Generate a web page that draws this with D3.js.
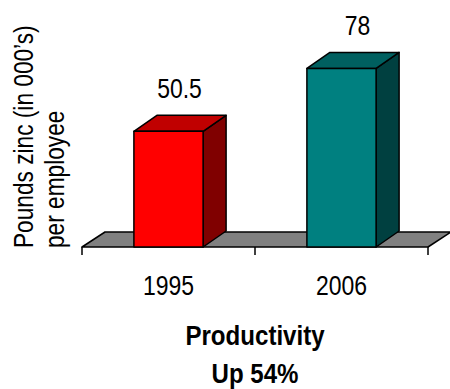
<!DOCTYPE html>
<html>
<head>
<meta charset="utf-8">
<script src="https://cdn.jsdelivr.net/npm/d3@7"></script>
<style>
  body { margin: 0; background: #fff; }
  svg text { font-family: "Liberation Sans", Arial, sans-serif; fill: #000; }
</style>
</head>
<body>
<svg id="grafico" width="450" height="389"></svg>
<script>
let anos = ['1995', '2006'];
let valores = [50.5, 78];
let rotulos = ['50.5', '78'];
let coresFrente = ['#ff0000', '#008080'];
let coresTopo = ['#c00000', '#006060'];
let coresLado = ['#800000', '#004040'];
let tituloY = ["Pounds zinc (in 000\u2019s)", 'per employee'];
let titulo = ['Productivity', 'Up 54%'];

let svg = d3.select('#grafico');

// profundidade do efeito 3D
let px = 23, py = 16;
let base = 247;
// fonte estreita: Liberation Sans comprimida na horizontal
let estreito = 0.82;

let fnx = d3.scaleBand()
    .domain(anos)
    .range([82, 428])
    .paddingInner(0.6)
    .paddingOuter(0.3);

let fny = d3.scaleLinear()
    .domain([0, 100])
    .range([base, 18]);

let passo = fnx.step();
let bw = fnx.bandwidth();

// piso cinza
let x0 = fnx.range()[0], x1 = fnx.range()[1];
svg.append('path')
    .attr('d', `M${x0},${base} L${x1},${base} L${x1 + px},${base - py + 1} L${x0 + px},${base - py + 1} Z`)
    .attr('fill', '#808080')
    .attr('stroke', '#000')
    .attr('stroke-width', 1.5)
    .attr('stroke-linejoin', 'round');

// marcas do eixo
let marcas = anos.map(d => fnx(d) - passo * 0.3).concat([x1]);
svg.selectAll('.marca')
    .data(marcas)
    .join('line')
    .attr('class', 'marca')
    .attr('x1', d => d).attr('x2', d => d)
    .attr('y1', base).attr('y2', base + 8)
    .attr('stroke', '#000')
    .attr('stroke-width', 1.5);

let barras = svg.selectAll('.barra')
    .data(anos)
    .join('g')
    .attr('class', 'barra');

// lado
barras.append('path')
    .attr('d', (d, i) => {
        let x = fnx(d) + bw, y = fny(valores[i]);
        return `M${x},${y} L${x + px},${y - py} L${x + px},${base - py} L${x},${base} Z`;
    })
    .attr('fill', (d, i) => coresLado[i]);

// topo
barras.append('path')
    .attr('d', (d, i) => {
        let x = fnx(d), y = fny(valores[i]);
        return `M${x},${y} L${x + px},${y - py} L${x + bw + px},${y - py} L${x + bw},${y} Z`;
    })
    .attr('fill', (d, i) => coresTopo[i]);

// frente
barras.append('rect')
    .attr('x', d => fnx(d))
    .attr('y', (d, i) => fny(valores[i]))
    .attr('width', bw)
    .attr('height', (d, i) => base - fny(valores[i]))
    .attr('fill', (d, i) => coresFrente[i]);

barras.selectAll('path, rect')
    .attr('stroke', '#000')
    .attr('stroke-width', 1.5)
    .attr('stroke-linejoin', 'round');

// rotulos de valor
svg.selectAll('.rotulo')
    .data(anos)
    .join('text')
    .attr('class', 'rotulo')
    .attr('transform', (d, i) => `translate(${fnx(d) + bw / 2 + 11 + i * 5},${fny(valores[i]) - py - 17}) scale(${estreito},1)`)
    .attr('text-anchor', 'middle')
    .attr('font-size', 28)
    .text((d, i) => rotulos[i]);

// rotulos das categorias
svg.selectAll('.categoria')
    .data(anos)
    .join('text')
    .attr('class', 'categoria')
    .attr('transform', d => `translate(${fnx(d) + bw / 2},295) scale(${estreito},1)`)
    .attr('text-anchor', 'middle')
    .attr('font-size', 28)
    .text(d => d);

// titulo do eixo y
svg.selectAll('.tituloY')
    .data(tituloY)
    .join('text')
    .attr('class', 'tituloY')
    .attr('transform', (d, i) => `translate(${33 + i * 31},${base + 1}) rotate(-90) scale(0.84,1)`)
    .attr('font-size', 27)
    .text(d => d);

// titulo
svg.selectAll('.titulo')
    .data(titulo)
    .join('text')
    .attr('class', 'titulo')
    .attr('transform', (d, i) => `translate(255,${345 + i * 38}) scale(0.86,1)`)
    .attr('text-anchor', 'middle')
    .attr('font-size', 28)
    .attr('font-weight', 'bold')
    .text(d => d);
</script>
</body>
</html>
